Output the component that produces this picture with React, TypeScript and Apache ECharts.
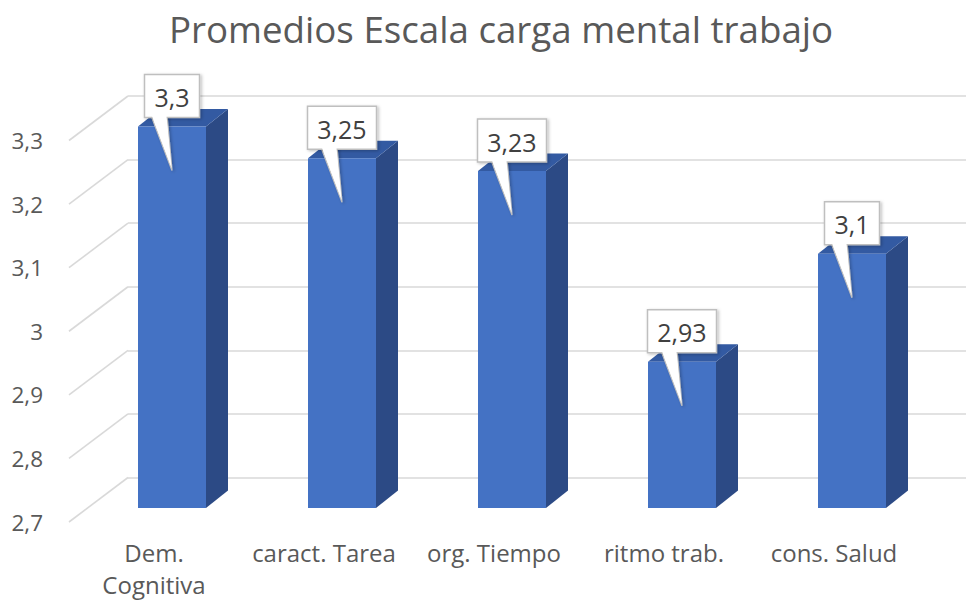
import React, { useEffect, useRef } from "react";
import * as echarts from "echarts";

// ---- data ----
const title = "Promedios Escala carga mental trabajo";
const categories = ["Dem. Cognitiva", "caract. Tarea", "org. Tiempo", "ritmo trab.", "cons. Salud"];
const values = [3.3, 3.25, 3.23, 2.93, 3.1];
const Y_MIN = 2.7;
const Y_MAX = 3.3;
const Y_STEP = 0.1;
const yTickValues = [2.7, 2.8, 2.9, 3.0, 3.1, 3.2, 3.3];

// ---- style / geometry ----
const FONT = "'Open Sans', sans-serif";
const TEXT_COLOR = "#595959";
const GRID_COLOR = "#D9D9D9";
const FRONT_COLOR = "#4472C4";
const TOP_COLOR = "#335AA2";
const SIDE_COLOR = "#2C4A85";
const PLANE_W = 850;
const PLANE_H = 381.5;
const FRONT_PLANE = { left: 69, top: 140.5 };
const BAR_PLANE = { left: 87, top: 126.5 };
const BACK_PLANE = { left: 128, top: 96 };
const WALL_DX = 59;
const WALL_DY = -44.5;
const BAR_DX = 22;
const BAR_DY = -17.5;
const BAR_RATIO = 0.4;
const X_LABEL_SIZE = 24;
const Y_LABEL_SIZE = 22.5;
const CALLOUT_SIZE = 25;

let measureCtx: CanvasRenderingContext2D | null = null;
function textWidth(s: string, font: string): number {
  if (!measureCtx) measureCtx = document.createElement("canvas").getContext("2d");
  if (!measureCtx) return s.length * 12;
  measureCtx.font = font;
  return measureCtx.measureText(s).width;
}

const fmt = (v: number) => String(+v.toFixed(2)).replace(".", ",");

export default function App() {
  const ref = useRef<HTMLDivElement>(null);
  useEffect(() => {
    if (!ref.current) return;
    const chart = echarts.init(ref.current, null, { renderer: "svg" });
    const gridBase = { width: PLANE_W, height: PLANE_H, containLabel: false };
    const hiddenX = (gridIndex: number) => ({
      type: "category",
      gridIndex,
      data: categories,
      show: false,
    });
    const option: any = {
      animation: false,
      backgroundColor: "#ffffff",
      title: {
        text: title,
        left: 496,
        top: 5,
        textAlign: "center",
        textStyle: { fontFamily: FONT, fontSize: 36.7, fontWeight: "normal", color: TEXT_COLOR },
      },
      grid: [
        { ...gridBase, left: BACK_PLANE.left, top: BACK_PLANE.top },
        { ...gridBase, left: FRONT_PLANE.left, top: FRONT_PLANE.top },
        { ...gridBase, left: BAR_PLANE.left, top: BAR_PLANE.top },
      ],
      xAxis: [
        hiddenX(0),
        {
          type: "category",
          gridIndex: 1,
          data: categories,
          axisLine: { show: false },
          axisTick: { show: false },
          axisLabel: {
            margin: 14,
            fontFamily: FONT,
            fontSize: X_LABEL_SIZE,
            lineHeight: 32,
            color: TEXT_COLOR,
            interval: 0,
            formatter: (v: string) => (v.length > 13 ? v.replace(" ", "\n") : v),
          },
        },
        hiddenX(2),
      ],
      yAxis: [
        {
          type: "value",
          gridIndex: 0,
          min: Y_MIN,
          max: Y_MAX,
          interval: Y_STEP,
          axisLine: { show: false },
          axisTick: { show: false },
          axisLabel: { show: false },
          splitLine: { show: true, lineStyle: { color: GRID_COLOR, width: 1.6 } },
        },
        {
          type: "value",
          gridIndex: 1,
          min: Y_MIN,
          max: Y_MAX,
          interval: Y_STEP,
          axisLine: { show: false },
          axisTick: { show: false },
          splitLine: { show: false },
          axisLabel: {
            margin: 26,
            fontFamily: FONT,
            fontSize: Y_LABEL_SIZE,
            color: TEXT_COLOR,
            formatter: (v: number) => fmt(v),
          },
        },
        {
          type: "value",
          gridIndex: 2,
          min: Y_MIN,
          max: Y_MAX,
          interval: Y_STEP,
          show: false,
        },
      ],
      series: [
        {
          // side-wall diagonal gridlines
          type: "custom",
          xAxisIndex: 1,
          yAxisIndex: 1,
          data: yTickValues.map((v) => [0, v]),
          silent: true,
          z: 1,
          renderItem: (params: any, api: any) => {
            const p = api.coord([0, api.value(1)]);
            const band = api.size([1, 0])[0];
            const x = p[0] - band / 2;
            return {
              type: "line",
              shape: { x1: x, y1: p[1], x2: x + WALL_DX, y2: p[1] + WALL_DY },
              style: { stroke: GRID_COLOR, lineWidth: 1.6 },
            };
          },
        },
        {
          // 3D bars
          type: "custom",
          xAxisIndex: 2,
          yAxisIndex: 2,
          data: values.map((v, i) => [i, v]),
          z: 3,
          renderItem: (params: any, api: any) => {
            const top = api.coord([api.value(0), api.value(1)]);
            const base = api.coord([api.value(0), Y_MIN]);
            const band = api.size([1, 0])[0];
            const w = band * BAR_RATIO;
            const x0 = top[0] - w / 2;
            const x1 = top[0] + w / 2;
            const yt = top[1];
            const yb = base[1];
            return {
              type: "group",
              children: [
                {
                  type: "polygon",
                  shape: { points: [[x1, yt], [x1 + BAR_DX, yt + BAR_DY], [x1 + BAR_DX, yb + BAR_DY], [x1, yb]] },
                  style: { fill: SIDE_COLOR },
                },
                {
                  type: "polygon",
                  shape: { points: [[x0, yt], [x0 + BAR_DX, yt + BAR_DY], [x1 + BAR_DX, yt + BAR_DY], [x1, yt]] },
                  style: { fill: TOP_COLOR },
                },
                {
                  type: "rect",
                  shape: { x: x0, y: yt, width: w, height: yb - yt },
                  style: { fill: FRONT_COLOR },
                },
              ],
            };
          },
        },
        {
          // callout data labels
          type: "custom",
          xAxisIndex: 2,
          yAxisIndex: 2,
          data: values.map((v, i) => [i, v]),
          z: 5,
          renderItem: (params: any, api: any) => {
            const v = api.value(1);
            const top = api.coord([api.value(0), v]);
            const cx = top[0];
            const yt = top[1];
            const label = fmt(v);
            const font = `${CALLOUT_SIZE}px ${FONT}`;
            const bw = Math.round(textWidth(label, font) + 20);
            const bh = 43;
            const by = yt - 52;
            const bx = cx - bw / 2;
            const tip: [number, number] = [cx, yt + 44];
            const bl: [number, number] = [cx - 21, by + bh - 2];
            const br: [number, number] = [cx - 5, by + bh - 2];
            const shadow = { shadowBlur: 3, shadowColor: "rgba(0,0,0,0.25)", shadowOffsetX: 1.5, shadowOffsetY: 1 };
            return {
              type: "group",
              children: [
                {
                  type: "polygon",
                  shape: { points: [bl, br, tip] },
                  style: { fill: "#ffffff", stroke: "#BFBFBF", lineWidth: 1.3, ...shadow },
                },
                {
                  type: "rect",
                  shape: { x: bx, y: by, width: bw, height: bh },
                  style: { fill: "#ffffff", stroke: "#BFBFBF", lineWidth: 1.5, ...shadow },
                },
                {
                  type: "polygon",
                  shape: { points: [[bl[0] + 0.8, bl[1]], [br[0] - 0.6, br[1]], [tip[0] - 0.3, tip[1] - 2]] },
                  style: { fill: "#ffffff" },
                },
                {
                  type: "text",
                  style: {
                    text: label,
                    x: cx,
                    y: by + bh / 2 + 1,
                    align: "center",
                    verticalAlign: "middle",
                    font,
                    fill: "#404040",
                  },
                },
              ],
            };
          },
        },
      ],
    };
    chart.setOption(option);
    return () => chart.dispose();
  }, []);
  return (
    <div
      ref={ref}
      style={{ position: "absolute", left: 0, top: 0, width: 966, height: 603, background: "#fff" }}
    />
  );
}
